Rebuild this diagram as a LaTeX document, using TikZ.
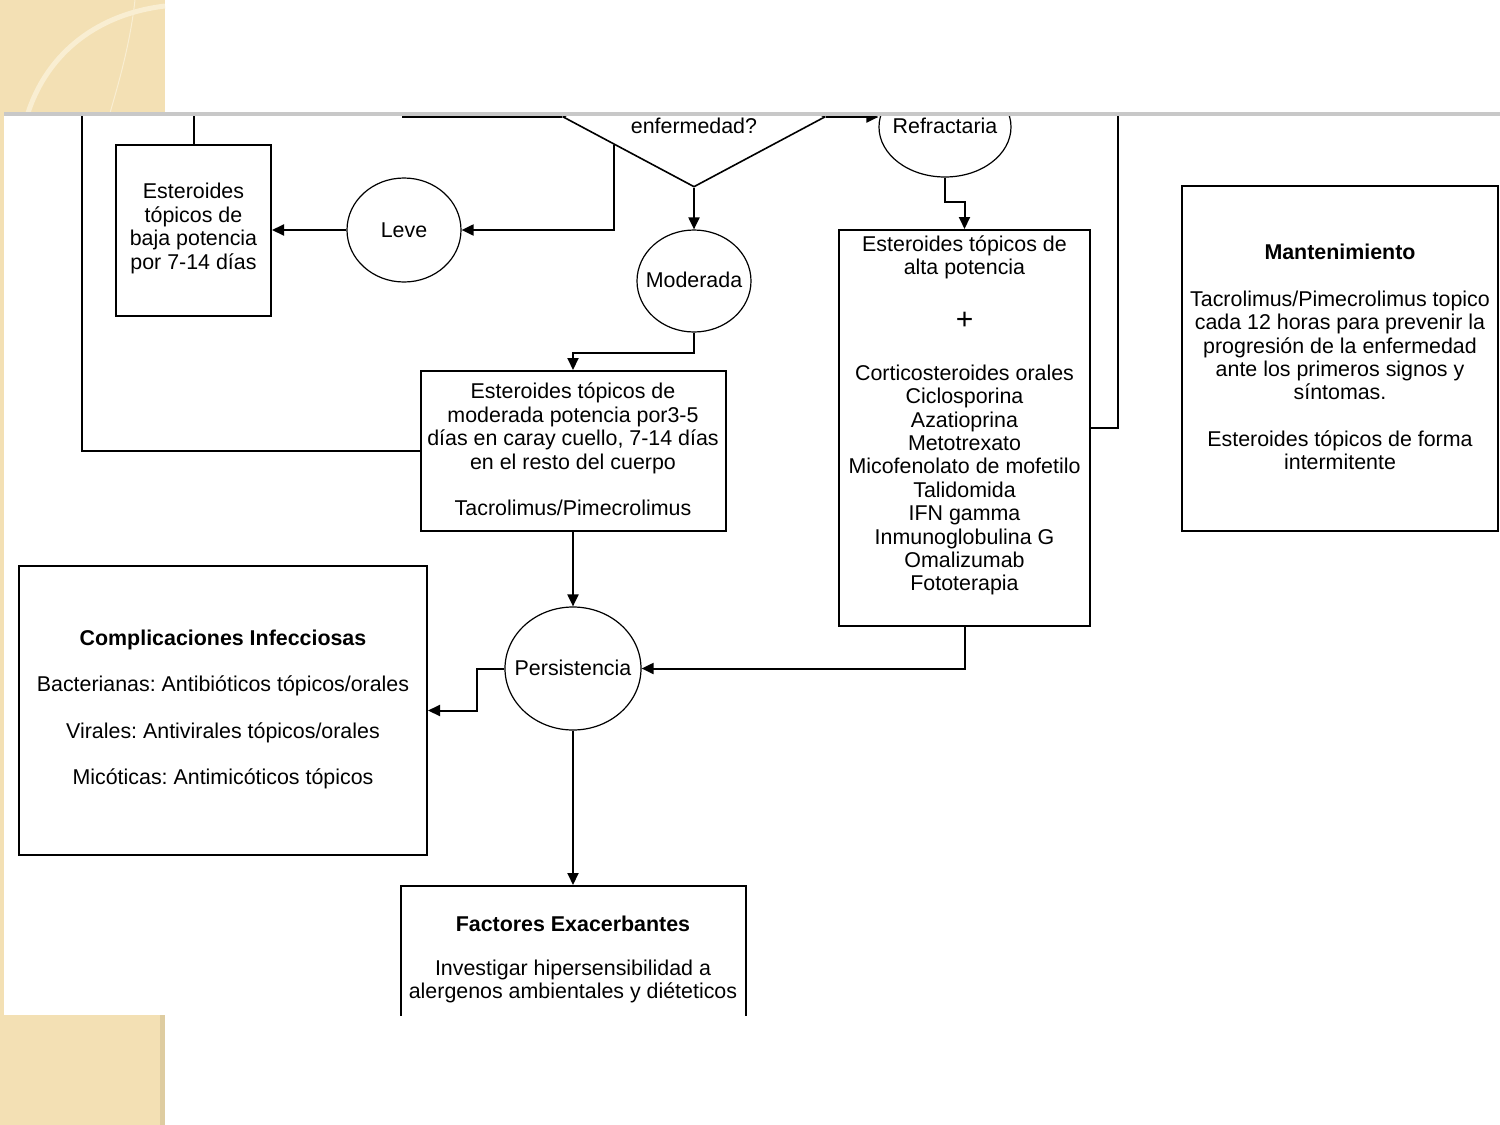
\documentclass[tikz,border=0pt]{standalone}
\usepackage{fontspec}
\setmainfont{Liberation Sans}
\usetikzlibrary{shapes.geometric,arrows.meta,calc}
\definecolor{beige}{RGB}{243,224,180}
\definecolor{beigelight}{RGB}{249,238,210}
\definecolor{beigedark}{RGB}{222,204,160}
\definecolor{topline}{RGB}{200,200,200}
\frenchspacing
\begin{document}
\begin{tikzpicture}[x=0.5pt,y=-0.5pt,
  every node/.style={font=\fontsize{10.7}{11.7}\selectfont},
  txt/.style={align=center,inner sep=0pt},
  box/.style={draw,line width=1pt,inner sep=0pt},
  circ/.style={ellipse,draw,line width=0.6pt,inner sep=0pt},
  ln/.style={line width=1pt},
  arr/.style={line width=1pt,-{Triangle[length=6pt,width=5.5pt]}}]
\useasboundingbox (0,0) rectangle (1500,1125);
% slide background
\fill[white] (0,0) rectangle (1500,1125);
\fill[beige] (0,0) rectangle (165,113);
\fill[beige] (0,113) rectangle (4,1015);
\fill[beige] (0,1015) rectangle (165,1125);
\fill[beigedark] (160,1015) rectangle (165,1125);
\draw[beigelight,line width=2.5pt] (165,6) .. controls (90,15) and (45,60) .. (28,113);
\draw[beigelight,line width=0.5pt] (135,0) .. controls (130,45) and (118,85) .. (110,113);
% diagram
\begin{scope}
\clip (4,116) rectangle (1500,1015);
% nodes
\node[diamond,draw,line width=0.8pt,inner sep=0pt,minimum width=131pt,minimum height=70pt] (dia) at (694,117) {};
\node[txt] (diaT) at (694,126) {enfermedad?};
\node[circ,minimum width=66pt,minimum height=50pt] (refr) at (945,127) {};
\node[txt] (refrT) at (945,126) {Refractaria};
\node[circ,minimum width=57pt,minimum height=52pt] (leve) at (404,230) {};
\node[txt] (leveT) at (404,230) {Leve};
\node[circ,minimum width=57pt,minimum height=51pt] (mod) at (694,281) {};
\node[txt] (modT) at (694,280) {Moderada};
\node[circ,minimum width=68pt,minimum height=61.5pt] (pers) at (573,668.5) {};
\node[txt] (persT) at (573,668) {Persistencia};
\node[box,minimum width=77.5pt,minimum height=85.5pt] (baja) at (193.5,230) {};
\node[txt] (bajaT) at (193.5,228.5) {Esteroides\\tópicos de\\baja potencia\\por 7-14 días};
\node[box,minimum width=152.5pt,minimum height=80pt] (modb) at (573,451) {};
\node[txt] (modbT) at (573,449.5) {Esteroides tópicos de\\moderada potencia por3-5\\días en caray cuello, 7-14 días\\en el resto del cuerpo\\[11.6pt]Tacrolimus/Pimecrolimus};
\node[box,minimum width=125.5pt,minimum height=198pt] (alta) at (964.5,428) {};
\node[txt] (altaT1) at (964.5,257.5) {Esteroides tópicos de\\alta potencia};
\node[txt,font=\fontsize{15}{15}\selectfont] (altaT2) at (964.5,321) {+};
\node[txt] (altaT3) at (964.5,480) {Corticosteroides orales\\Ciclosporina\\Azatioprina\\Metotrexato\\Micofenolato de mofetilo\\Talidomida\\IFN gamma\\Inmunoglobulina G\\Omalizumab\\Fototerapia};
\node[box,minimum width=204pt,minimum height=144.5pt] (comp) at (223,710.5) {};
\node[txt] (compT) at (223,709.5) {\bfseries Complicaciones Infecciosas\\[11.6pt]Bacterianas: Antibióticos tópicos/orales\\[11.6pt]Virales: Antivirales tópicos/orales\\[11.6pt]Micóticas: Antimicóticos tópicos};
\node[box,minimum width=172.5pt,minimum height=100pt] (fact) at (573,986) {};
\node[txt] (factT1) at (573,924) {\bfseries Factores Exacerbantes};
\node[txt] (factT2) at (573,981.5) {Investigar hipersensibilidad a\\alergenos ambientales y diéteticos};
\node[box,minimum width=158pt,minimum height=172.5pt] (mant) at (1340,358.5) {};
\node[txt] (mantT1) at (1340,252) {\bfseries Mantenimiento};
\node[txt] (mantT2) at (1340,345.5) {Tacrolimus/Pimecrolimus topico\\cada 12 horas para prevenir la\\progresión de la enfermedad\\ante los primeros signos y\\síntomas.};
\node[txt] (mantT3) at (1340,450.5) {Esteroides tópicos de forma\\intermitente};
% free ends and bends
\coordinate (c1) at (403,60);
\coordinate (c2) at (193.5,60);
\coordinate (c3) at (82,60);
\coordinate (c4) at (694,353);
\coordinate (c5) at (945,202);
\coordinate (c6) at (1118,60);
\coordinate (c7) at (477,668.5);
% connectors
\draw[ln] (dia.west) -| (c1);
\draw[arr] (dia.east) -- (refr.west |- dia.east);
\draw[arr] ($(dia.west)!0.39!(dia.south)$) |- (leve.east);
\draw[arr] (dia.south) -- (mod.north);
\draw[arr] (leve.west) -- (baja.east);
\draw[ln] (baja.north) -- (c2);
\draw[ln] (modb.west) -| (c3);
\draw[arr] (mod.south) -- (c4) -| (modb.north);
\draw[arr] (refr.south) -- (c5) -| (alta.north);
\draw[ln] (alta.east) -| (c6);
\draw[arr] (modb.south) -- (pers.north);
\draw[arr] (alta.south) |- (pers.east);
\draw[arr] (pers.west) -- (c7) |- (comp.east);
\draw[arr] (pers.south) -- (fact.north);
\end{scope}
\fill[topline] (4,112) rectangle (1500,116);
\end{tikzpicture}
\end{document}
